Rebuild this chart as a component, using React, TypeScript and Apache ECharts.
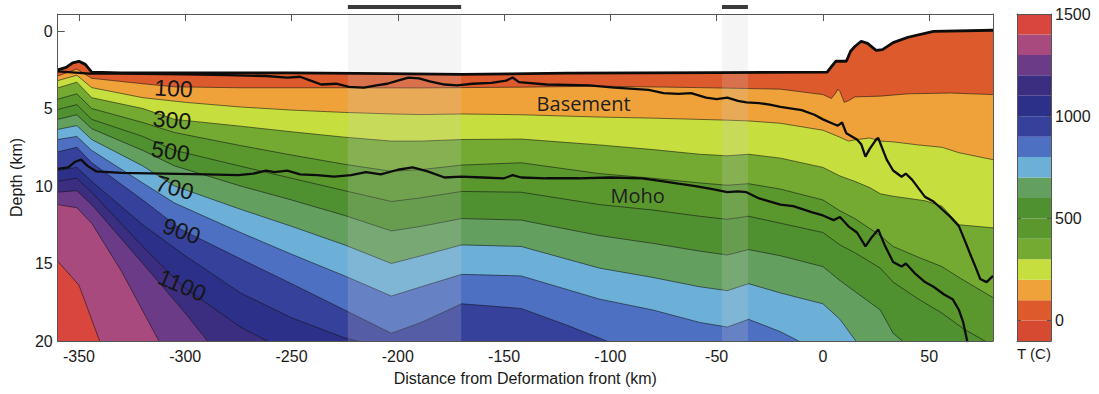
import { useEffect, useRef } from "react";
import * as echarts from "echarts";

type Pt = [number, number];

// Section extent (km)
const DIST_MIN = -360;
const DIST_MAX = 80;
const DEPTH_MIN = -1.1;
const DEPTH_MAX = 20;
// Temperature scale (°C)
const T_MIN = -100;
const T_MAX = 1500;

const distanceTicks = [-350, -300, -250, -200, -150, -100, -50, 0, 50];
const depthTicks = [0, 5, 10, 15, 20];
const temperatureTicks = [0, 500, 1000, 1500];

// Temperature bands of the colour scale, 100 °C each
const bandEdges = [-100, 0, 100, 200, 300, 400, 500, 600, 700, 800, 900, 1000, 1100, 1200, 1300, 1400, 1500];
const bandColors = [
  "#d64a32", // -100..0
  "#dc5a2c", // 0..100
  "#f0a23a", // 100..200
  "#c6de3e", // 200..300
  "#74aa32", // 300..400
  "#5a982e", // 400..500
  "#4f9030", // 500..600
  "#63a060", // 600..700
  "#6cb0d8", // 700..800
  "#4d70c2", // 800..900
  "#36419c", // 900..1000
  "#2d3088", // 1000..1100
  "#3b2e80", // 1100..1200
  "#6c3b88", // 1200..1300
  "#a84a7e", // 1300..1400
  "#d8463e", // 1400..1500
];

// Top of the model (sea floor / topography), [distance km, depth km]
const surface: Pt[] = [
  [-360, 2.5], [-356, 2.35], [-353, 2.05], [-350, 1.95], [-347, 2.15], [-344, 2.65], [-330, 2.7],
  [-250, 2.7], [-205, 2.75], [-170, 2.8], [-120, 2.72], [-50, 2.68], [2, 2.65], [4, 2.3], [6, 1.95],
  [11, 1.95], [13, 1.3], [15, 1.0], [18, 0.66], [21, 0.8], [25, 1.25], [28, 1.2], [33, 0.75],
  [40, 0.4], [52, 0.02], [80, -0.05],
];

// Top of basement
const basement: Pt[] = [
  [-360, 2.6], [-345, 2.75], [-330, 2.75], [-300, 2.8], [-280, 2.85], [-262, 2.9], [-252, 3.0],
  [-246, 2.95], [-241, 3.2], [-236, 3.45], [-229, 3.4], [-223, 3.6], [-216, 3.65], [-210, 3.5],
  [-205, 3.4], [-200, 3.2], [-195, 3.0], [-190, 3.05], [-185, 3.25], [-178, 3.45], [-172, 3.5],
  [-165, 3.4], [-156, 3.35], [-149, 3.2], [-146, 3.0], [-143, 3.3], [-130, 3.45], [-110, 3.5],
  [-98, 3.65], [-82, 3.8], [-75, 4.0], [-68, 4.05], [-62, 4.0], [-55, 4.3], [-50, 4.4], [-45, 4.3],
  [-40, 4.5], [-36, 4.6], [-30, 4.65], [-25, 4.75], [-20, 4.9], [-10, 5.1], [-4, 5.4], [0, 5.7],
  [5, 6.0], [7, 6.1], [9, 5.9], [11, 6.6], [16, 7.0], [18, 7.3], [20, 8.1], [22, 7.6], [25, 7.0],
  [26, 6.9], [28, 7.6], [30, 8.3], [33, 9.0], [37, 9.4], [39, 9.2], [42, 9.6], [48, 10.7],
  [52, 11.0], [56, 11.5], [60, 12.0], [64, 12.6], [67, 13.6], [69, 14.3], [72, 15.3], [74, 16.0],
  [77, 16.2], [80, 15.8],
];

// Crust–mantle boundary
const moho: Pt[] = [
  [-360, 8.9], [-355, 8.8], [-352, 8.45], [-349, 8.3], [-346, 8.7], [-342, 9.05], [-330, 9.15],
  [-310, 9.2], [-290, 9.25], [-275, 9.3], [-268, 9.2], [-262, 9.0], [-258, 9.1], [-252, 9.0],
  [-246, 9.25], [-238, 9.3], [-230, 9.4], [-222, 9.3], [-215, 9.1], [-208, 9.25], [-200, 8.95],
  [-193, 8.8], [-186, 9.05], [-178, 9.45], [-170, 9.4], [-160, 9.45], [-150, 9.5], [-146, 9.3],
  [-142, 9.45], [-130, 9.5], [-115, 9.5], [-100, 9.45], [-85, 9.5], [-75, 9.7], [-68, 9.85],
  [-60, 10.0], [-52, 10.2], [-45, 10.4], [-40, 10.35], [-36, 10.4], [-30, 10.8], [-20, 11.2],
  [-14, 11.3], [-5, 11.7], [0, 11.9], [5, 12.2], [8, 12.0], [12, 12.6], [16, 13.0], [20, 13.9],
  [23, 13.3], [26, 12.8], [29, 13.8], [33, 14.9], [37, 15.2], [39, 15.0], [43, 15.6], [48, 16.2],
  [52, 16.5], [57, 17.0], [61, 17.3], [64, 18.0], [66, 18.8], [68, 20.1],
];

// Isotherms (depth of each temperature level along the section)
const iso100: Pt[] = [
  [-360, 2.9], [-351, 2.45], [-344, 3.05], [-320, 3.4], [-305, 3.6], [-274, 3.66], [-225, 3.66],
  [-189, 3.67], [-170, 3.65], [-142, 3.62], [-105, 3.56], [-58, 3.65], [-20, 3.75], [0, 4.1],
  [4, 4.35], [6, 4.0], [7, 3.75], [8, 3.9], [10, 4.6], [12, 4.5], [15, 4.25], [27, 4.2], [40, 4.05],
  [60, 4.0], [80, 4.1],
];
const iso200: Pt[] = [
  [-360, 3.2], [-351, 2.85], [-344, 3.65], [-320, 4.3], [-300, 4.6], [-274, 4.9], [-250, 5.1],
  [-225, 5.25], [-203, 5.35], [-189, 5.39], [-170, 5.35], [-142, 5.4], [-105, 5.55], [-80, 5.62],
  [-58, 5.7], [-45, 5.75], [-35, 5.8], [-20, 5.95], [0, 6.4], [8, 6.85], [12, 7.1], [16, 7.0],
  [22, 6.9], [27, 7.1], [33, 7.15], [45, 7.35], [56, 7.5], [64, 7.85], [80, 8.3],
];
const iso300: Pt[] = [
  [-360, 3.67], [-351, 3.3], [-344, 4.3], [-320, 5.0], [-305, 5.7], [-274, 6.14], [-250, 6.5],
  [-225, 6.85], [-203, 7.1], [-189, 7.1], [-170, 7.0], [-142, 6.97], [-105, 7.35], [-80, 7.65],
  [-58, 7.95], [-45, 8.05], [-35, 7.95], [-20, 8.2], [0, 8.8], [8, 9.35], [15, 9.7], [22, 10.1],
  [27, 10.5], [33, 10.66], [48, 10.95], [56, 11.3], [64, 12.5], [80, 12.7],
];
const iso400: Pt[] = [
  [-360, 4.4], [-351, 4.05], [-344, 5.0], [-320, 5.9], [-305, 6.55], [-274, 7.39], [-250, 8.0],
  [-225, 8.6], [-203, 9.05], [-189, 8.94], [-170, 8.65], [-142, 8.5], [-105, 9.2], [-80, 9.5],
  [-58, 9.8], [-45, 9.95], [-35, 9.85], [-20, 10.2], [0, 10.9], [8, 11.6], [15, 12.1], [27, 13.2],
  [33, 13.9], [45, 14.6], [56, 15.2], [64, 15.9], [80, 17.2],
];
const iso500: Pt[] = [
  [-360, 5.06], [-351, 4.75], [-344, 5.7], [-320, 6.8], [-305, 7.7], [-274, 8.72], [-250, 9.5],
  [-225, 10.3], [-203, 11.0], [-189, 10.76], [-170, 10.35], [-142, 10.4], [-105, 11.2], [-80, 11.55],
  [-58, 11.95], [-45, 12.15], [-35, 11.95], [-20, 12.4], [0, 13.0], [8, 13.8], [15, 14.3], [27, 15.3],
  [33, 16.2], [45, 17.3], [56, 18.2], [66, 19.2], [80, 20.3],
];
const iso600: Pt[] = [
  [-360, 5.7], [-351, 5.4], [-344, 6.3], [-320, 7.7], [-305, 8.7], [-274, 10.0], [-250, 10.9],
  [-225, 11.9], [-203, 12.9], [-189, 12.6], [-170, 12.1], [-142, 12.2], [-105, 13.2], [-80, 13.7],
  [-58, 14.2], [-45, 14.45], [-35, 14.1], [-20, 14.5], [0, 15.2], [8, 16.1], [15, 16.8], [27, 18.0],
  [33, 19.5], [40, 20.3],
];
const iso700: Pt[] = [
  [-360, 6.35], [-351, 6.1], [-344, 7.0], [-320, 8.7], [-305, 10.0], [-274, 11.5], [-250, 12.6],
  [-225, 13.8], [-203, 15.0], [-189, 14.5], [-170, 13.8], [-142, 13.9], [-105, 15.3], [-80, 15.9],
  [-58, 16.5], [-45, 16.75], [-35, 16.3], [-20, 16.9], [0, 17.6], [8, 18.6], [16, 20.1],
];
const iso800: Pt[] = [
  [-360, 7.0], [-351, 6.8], [-344, 7.7], [-320, 9.8], [-305, 11.1], [-274, 13.0], [-250, 14.4],
  [-225, 15.8], [-203, 17.1], [-189, 16.5], [-170, 15.7], [-142, 15.8], [-105, 17.3], [-80, 18.0],
  [-58, 18.8], [-45, 19.1], [-35, 18.6], [-20, 19.4], [-10, 20.1],
];
const iso900: Pt[] = [
  [-360, 7.8], [-351, 7.5], [-344, 8.5], [-320, 10.9], [-302, 12.8], [-274, 14.7], [-250, 16.3],
  [-225, 18.0], [-203, 19.5], [-189, 18.8], [-170, 17.6], [-142, 17.9], [-120, 19.0], [-100, 20.1],
];
const iso1000: Pt[] = [
  [-360, 9.0], [-351, 8.8], [-344, 9.7], [-320, 12.5], [-300, 14.5], [-274, 16.9], [-250, 18.5],
  [-225, 19.8], [-210, 20.3],
];
const iso1100: Pt[] = [
  [-360, 9.7], [-351, 9.5], [-344, 10.4], [-320, 13.9], [-301, 16.5], [-274, 19.1], [-260, 20.1],
];
const iso1200: Pt[] = [
  [-360, 10.4], [-351, 10.3], [-344, 11.2], [-320, 15.0], [-300, 18.2], [-289, 20.1],
];
const iso1300: Pt[] = [
  [-360, 11.2], [-351, 11.4], [-344, 12.4], [-330, 15.5], [-312, 20.1],
];
const iso1400: Pt[] = [
  [-360, 14.85], [-350, 16.4], [-340, 20.1],
];

const isotherms = [
  { level: 100, path: iso100 },
  { level: 200, path: iso200 },
  { level: 300, path: iso300 },
  { level: 400, path: iso400 },
  { level: 500, path: iso500 },
  { level: 600, path: iso600 },
  { level: 700, path: iso700 },
  { level: 800, path: iso800 },
  { level: 900, path: iso900 },
  { level: 1000, path: iso1000 },
  { level: 1100, path: iso1100 },
  { level: 1200, path: iso1200 },
  { level: 1300, path: iso1300 },
  { level: 1400, path: iso1400 },
];

// Distance ranges highlighted along the section
const highlightSpans: Pt[] = [
  [-223.5, -170.2],
  [-47.5, -35.3],
];

const contourLabels = [
  { text: "100", distance: -305.5, depth: 3.7, angle: 3 },
  { text: "300", distance: -306.2, depth: 5.74, angle: 5 },
  { text: "500", distance: -306.9, depth: 7.77, angle: 9 },
  { text: "700", distance: -305, depth: 10.1, angle: 15 },
  { text: "900", distance: -301.7, depth: 12.9, angle: 19 },
  { text: "1100", distance: -301.5, depth: 16.4, angle: 23 },
];

const horizonLabels = [
  { text: "Basement", distance: -112.6, depth: 4.65 },
  { text: "Moho", distance: -87.2, depth: 10.58 },
];

const FONT = "'Liberation Sans', Arial, Helvetica, sans-serif";
const TEXT = "#1a1a1a";
const FRAME = "#555555";

function bandColorFrom(level: number) {
  return bandColors[bandEdges.indexOf(level)];
}

function buildOption(): any {
  const fillLine = (name: string, data: Pt[], color: string, lineWidth: number) => ({
    type: "line",
    name,
    data,
    xAxisIndex: 0,
    yAxisIndex: 0,
    symbol: "none",
    silent: true,
    z: 2,
    lineStyle: { color: "rgba(20,20,20,0.72)", width: lineWidth },
    areaStyle: { color, opacity: 1, origin: "end" },
  });

  const fills = [
    fillLine("0 °C", surface, bandColorFrom(0), 0),
    ...isotherms.map((iso) => fillLine(`${iso.level} °C`, iso.path, bandColorFrom(iso.level), 0.8)),
  ];

  const horizons = [
    { name: "Surface", data: surface, width: 2.8 },
    { name: "Basement", data: basement, width: 2.3 },
    { name: "Moho", data: moho, width: 2.3 },
  ].map((h) => ({
    type: "line",
    name: h.name,
    data: h.data,
    xAxisIndex: 0,
    yAxisIndex: 0,
    symbol: "none",
    silent: true,
    z: 4,
    lineStyle: { color: "#0c0c0c", width: h.width },
  }));

  const highlightOverlay = {
    type: "custom",
    name: "highlight",
    xAxisIndex: 0,
    yAxisIndex: 0,
    silent: true,
    z: 3,
    data: highlightSpans,
    renderItem: (_p: any, api: any) => {
      const a = api.coord([api.value(0), DEPTH_MIN]);
      const b = api.coord([api.value(1), DEPTH_MAX]);
      return {
        type: "rect",
        shape: { x: a[0], y: a[1], width: b[0] - a[0], height: b[1] - a[1] },
        style: { fill: "rgba(205,205,205,0.2)" },
      };
    },
  };

  const highlightBars = {
    type: "custom",
    name: "highlight-bars",
    xAxisIndex: 0,
    yAxisIndex: 0,
    silent: true,
    clip: false,
    z: 5,
    data: highlightSpans,
    renderItem: (_p: any, api: any) => {
      const a = api.coord([api.value(0), DEPTH_MIN]);
      const b = api.coord([api.value(1), DEPTH_MIN]);
      return {
        type: "rect",
        shape: { x: a[0], y: a[1] - 9, width: b[0] - a[0], height: 4 },
        style: { fill: "#3a3a3a" },
      };
    },
  };

  const contourText = {
    type: "custom",
    name: "contour-labels",
    xAxisIndex: 0,
    yAxisIndex: 0,
    silent: true,
    z: 6,
    data: contourLabels.map((l) => [l.distance, l.depth]),
    renderItem: (p: any, api: any) => {
      const l = contourLabels[p.dataIndex];
      const c = api.coord([api.value(0), api.value(1)]);
      return {
        type: "text",
        x: c[0],
        y: c[1],
        rotation: (-l.angle * Math.PI) / 180,
        style: {
          text: l.text,
          fontSize: 23,
          fontFamily: FONT,
          fill: "#161616",
          align: "center",
          verticalAlign: "middle",
        },
      };
    },
  };

  const horizonText = {
    type: "custom",
    name: "horizon-labels",
    xAxisIndex: 0,
    yAxisIndex: 0,
    silent: true,
    z: 6,
    data: horizonLabels.map((l) => [l.distance, l.depth]),
    renderItem: (p: any, api: any) => {
      const l = horizonLabels[p.dataIndex];
      const c = api.coord([api.value(0), api.value(1)]);
      return {
        type: "text",
        x: c[0],
        y: c[1],
        style: {
          text: l.text,
          fontSize: 20,
          fontFamily: "'Open Sans', 'Noto Sans', sans-serif",
          fill: "#1e1e1e",
          align: "center",
          verticalAlign: "middle",
        },
      };
    },
  };

  const colorbar = {
    type: "custom",
    name: "colorbar",
    xAxisIndex: 2,
    yAxisIndex: 2,
    silent: true,
    z: 2,
    data: bandColors.map((_c, i) => [bandEdges[i], bandEdges[i + 1]]),
    renderItem: (p: any, api: any) => {
      const a = api.coord([0, api.value(0)]);
      const b = api.coord([1, api.value(1)]);
      return {
        type: "rect",
        shape: { x: a[0], y: b[1], width: b[0] - a[0], height: a[1] - b[1] },
        style: { fill: bandColors[p.dataIndex] },
      };
    },
  };

  const lineAxis = { show: true, onZero: false, lineStyle: { color: FRAME, width: 1 } };
  const labelStyle = { fontSize: 16, fontFamily: FONT, color: TEXT };
  const plain = (v: number) => String(v);

  return {
    animation: false,
    backgroundColor: "#ffffff",
    grid: [
      { left: 57, right: 106, top: 14, bottom: 53 },
      { left: 1017, right: 48, top: 14, bottom: 53 },
    ],
    xAxis: [
      {
        type: "value",
        gridIndex: 0,
        position: "bottom",
        min: DIST_MIN,
        max: DIST_MAX,
        z: 7,
        axisLine: lineAxis,
        axisTick: { show: false },
        splitLine: { show: false },
        axisLabel: { ...labelStyle, customValues: distanceTicks, margin: 7, formatter: plain },
        name: "Distance from Deformation front (km)",
        nameLocation: "middle",
        nameGap: 29,
        nameTextStyle: labelStyle,
      },
      {
        type: "value",
        gridIndex: 0,
        position: "top",
        min: DIST_MIN,
        max: DIST_MAX,
        z: 7,
        axisLine: lineAxis,
        axisTick: {
          show: true,
          inside: true,
          length: 7,
          customValues: distanceTicks,
          lineStyle: { color: FRAME, width: 1 },
        },
        splitLine: { show: false },
        axisLabel: { show: false },
      },
      {
        type: "value",
        gridIndex: 1,
        position: "bottom",
        min: 0,
        max: 1,
        z: 7,
        axisLine: lineAxis,
        axisTick: { show: false },
        splitLine: { show: false },
        axisLabel: { show: false },
        name: "T (C)",
        nameLocation: "middle",
        nameGap: 5,
        nameTextStyle: { fontSize: 15, fontFamily: FONT, color: TEXT },
      },
      {
        type: "value",
        gridIndex: 1,
        position: "top",
        min: 0,
        max: 1,
        z: 7,
        axisLine: lineAxis,
        axisTick: { show: false },
        splitLine: { show: false },
        axisLabel: { show: false },
      },
    ],
    yAxis: [
      {
        type: "value",
        gridIndex: 0,
        position: "left",
        inverse: true,
        min: DEPTH_MIN,
        max: DEPTH_MAX,
        z: 7,
        axisLine: lineAxis,
        axisTick: {
          show: true,
          inside: true,
          length: 7,
          customValues: [0],
          lineStyle: { color: FRAME, width: 1 },
        },
        splitLine: { show: false },
        axisLabel: { ...labelStyle, customValues: depthTicks, margin: 5, formatter: plain },
        name: "Depth (km)",
        nameLocation: "middle",
        nameRotate: 90,
        nameGap: 31,
        nameTextStyle: labelStyle,
      },
      {
        type: "value",
        gridIndex: 0,
        position: "right",
        inverse: true,
        min: DEPTH_MIN,
        max: DEPTH_MAX,
        z: 7,
        axisLine: lineAxis,
        axisTick: { show: false },
        splitLine: { show: false },
        axisLabel: { show: false },
      },
      {
        type: "value",
        gridIndex: 1,
        position: "right",
        min: T_MIN,
        max: T_MAX,
        z: 7,
        axisLine: lineAxis,
        axisTick: {
          show: true,
          inside: true,
          length: 4,
          customValues: temperatureTicks,
          lineStyle: { color: FRAME, width: 1 },
        },
        splitLine: { show: false },
        axisLabel: { ...labelStyle, customValues: temperatureTicks, margin: 4, formatter: plain },
      },
      {
        type: "value",
        gridIndex: 1,
        position: "left",
        min: T_MIN,
        max: T_MAX,
        z: 7,
        axisLine: lineAxis,
        axisTick: {
          show: true,
          inside: true,
          length: 4,
          customValues: temperatureTicks,
          lineStyle: { color: FRAME, width: 1 },
        },
        splitLine: { show: false },
        axisLabel: { show: false },
      },
    ],
    series: [
      ...fills,
      highlightOverlay,
      ...horizons,
      highlightBars,
      contourText,
      horizonText,
      colorbar,
    ],
  };
}

export default function App() {
  const ref = useRef<HTMLDivElement>(null);

  useEffect(() => {
    document.body.style.margin = "0";
    if (!ref.current) return;
    const chart = echarts.init(ref.current, undefined, { renderer: "svg" });
    chart.setOption(buildOption());
    return () => chart.dispose();
  }, []);

  return (
    <div
      ref={ref}
      style={{ position: "absolute", left: 0, top: 0, width: 1099, height: 394 }}
    />
  );
}
